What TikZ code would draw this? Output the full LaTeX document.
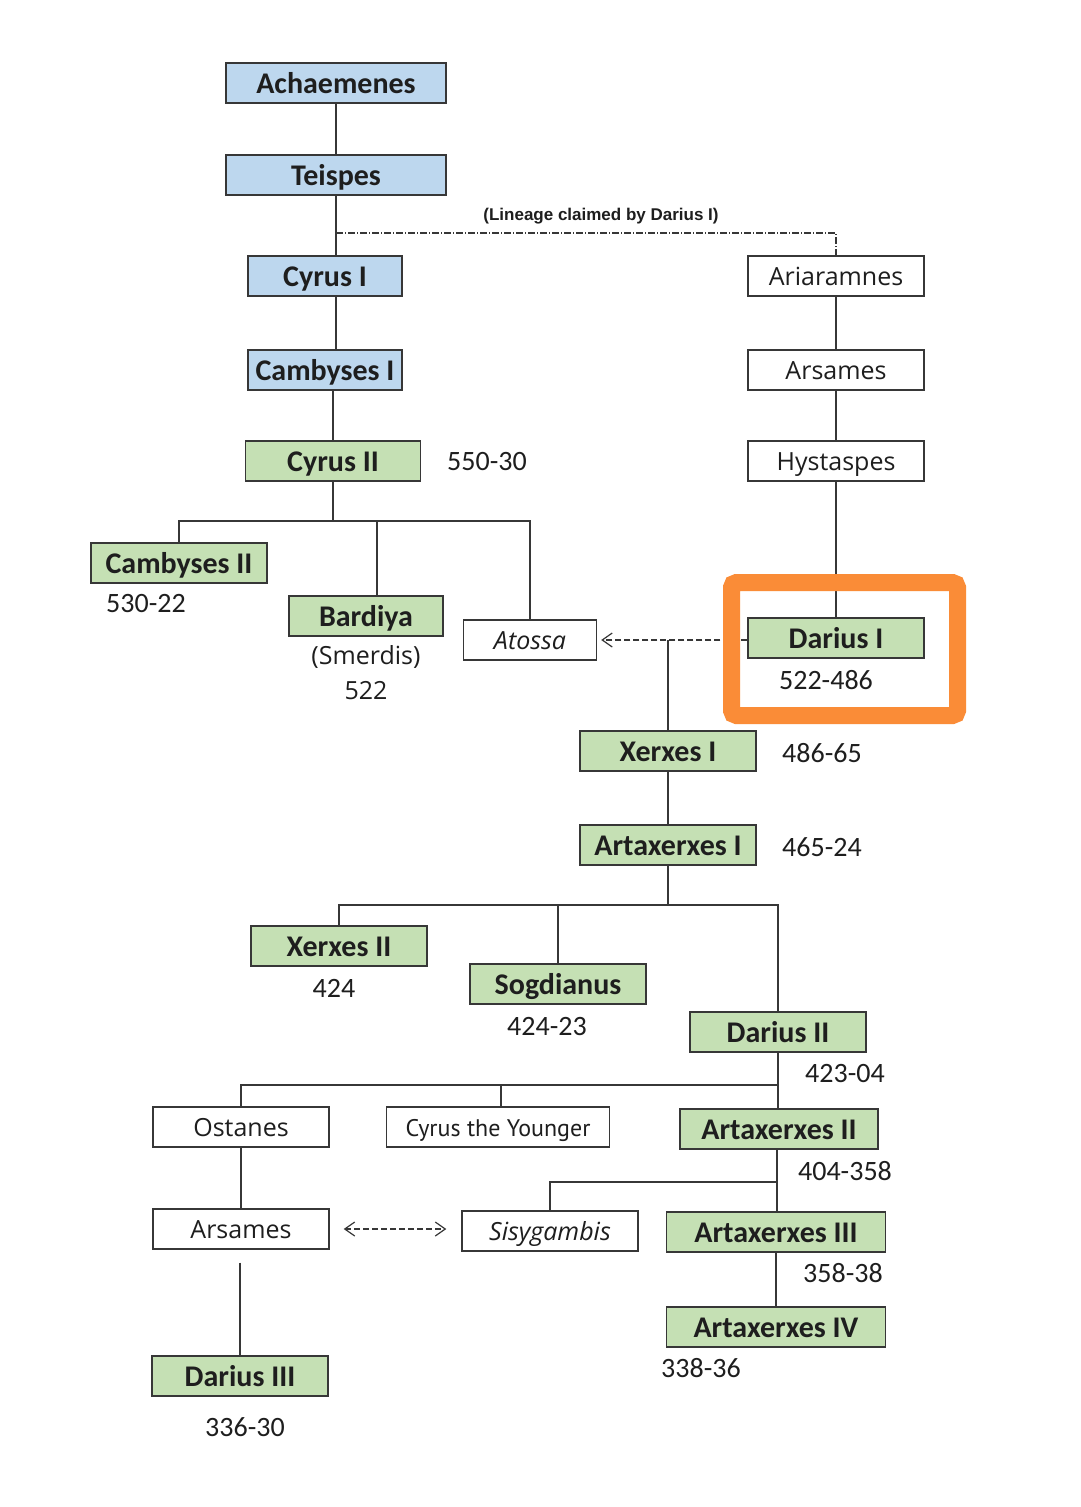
\documentclass[tikz,border=0pt]{standalone}
\usepackage{fontspec}
\usepackage{tikz}
\usetikzlibrary{arrows.meta,calc}
\newfontfamily\calibri{Carlito}
\newfontfamily\opensans{Open Sans}
\newfontfamily\ptsans{PT Sans}
\newfontfamily\arialf{Liberation Sans}
\definecolor{boxblue}{RGB}{189,215,238}
\definecolor{boxgreen}{RGB}{197,224,180}
\definecolor{edge}{RGB}{55,55,55}
\definecolor{ink}{RGB}{30,30,30}
\definecolor{frame}{RGB}{250,140,55}

\begin{document}
\begin{tikzpicture}[x=1pt, y=-1pt,
  box/.style={draw=edge, line width=1.4pt, minimum width=176pt, minimum height=40pt,
    inner sep=0pt, text=ink},
  anc/.style={box, fill=boxblue, font={\calibri\bfseries\fontsize{30}{36}\selectfont},
    text height=26pt, text depth=6pt},
  king/.style={box, fill=boxgreen, font={\calibri\bfseries\fontsize{30}{36}\selectfont},
    text height=26pt, text depth=6pt},
  other/.style={box, fill=white, font={\opensans\fontsize{25}{30}\selectfont},
    text height=24pt, text depth=6pt},
  date/.style={font={\calibri\fontsize{28}{34}\selectfont}, text=ink, inner sep=0pt},
  tie/.style={draw=edge, line width=1.4pt},
  hint/.style={draw=edge, line width=1.2pt, dash pattern=on 6pt off 3pt,
    arrows={-Straight Barb[length=10pt, width=14pt, line width=1.2pt]}}
]
\fill[white] (0,0) rectangle (1080,1507);
\useasboundingbox (0,0) rectangle (1080,1507);

% Achaemenes line
\node[anc, minimum width=220pt] (achaemenes) at (336,83) {Achaemenes};
\node[anc, minimum width=220pt] (teispes) at (336,175) {Teispes};
\node[anc, minimum width=154pt] (cyrusi) at (325,276) {Cyrus I};
\node[anc, minimum width=154pt] (cambysesi) at (325,370) {Cambyses I};
\node[king, minimum width=175pt] (cyrusii) at (333,461) {Cyrus II};
\node[date] (dcyrusii) at (487,462) {550-30};

\coordinate (claim) at (336,233);
\draw[tie] (achaemenes) -- (teispes);
\draw[tie] (teispes.south) -- (teispes.south |- cyrusi.north);
\draw[tie] (cyrusi.south -| claim) -- (cambysesi.north -| claim);
\draw[tie] (cyrusii.north |- cambysesi.south) -- (cyrusii.north);

% children of Cyrus II
\node[king] (cambysesii) at (179,563) {Cambyses II};
\node[date] (dcambysesii) at (146,604) {530-22};
\node[king, minimum width=154pt] (bardiya) at (366,616) {Bardiya};
\node[date, font={\opensans\fontsize{25}{30}\selectfont}] (smerdis) at (366,657) {(Smerdis)};
\node[date, font={\opensans\fontsize{25}{30}\selectfont}] (dbardiya) at (366,691) {522};
\node[other, minimum width=133pt, font={\opensans\itshape\fontsize{25}{30}\selectfont}] (atossa) at (530,640) {Atossa};

\coordinate (sons) at (333,521);
\coordinate (bdrop) at (377,521);
\draw[tie] (cyrusii.south) -- (sons);
\draw[tie] (cambysesii.north) |- (sons) -| (atossa.north);
\draw[tie] (bdrop) -- (bdrop |- bardiya.north);

% Darius I line
\node[other] (ariaramnes) at (836,276) {Ariaramnes};
\node[other] (arsamesa) at (836,370) {Arsames};
\node[other] (hystaspes) at (836,461) {Hystaspes};
\node[king] (dariusi) at (836,638) {Darius I};
\node[date] (ddariusi) at (826,680) {522-486};

\draw[edge, line width=1.2pt, dash pattern=on 7pt off 2pt on 1pt off 2pt] (claim) -| (ariaramnes.north);
\node[font={\arialf\bfseries\fontsize{17}{20}\selectfont}, text=ink, inner sep=0pt] (claimtxt) at (601,216) {(Lineage claimed by Darius I)};
\draw[tie] (ariaramnes) -- (arsamesa);
\draw[tie] (arsamesa) -- (hystaspes);
\draw[tie] (hystaspes) -- (dariusi);
\draw[hint, shorten >=4pt] (dariusi.west |- atossa.east) -- (atossa.east);

\draw[frame, line width=17pt, rounded corners=5pt] (731.5,582.5) rectangle (957.5,715.5);

% Xerxes I and Artaxerxes I
\node[king] (xerxesi) at (668,751) {Xerxes I};
\node[date] (dxerxesi) at (822,753) {486-65};
\node[king] (artaxerxesi) at (668,845) {Artaxerxes I};
\node[date] (dartaxerxesi) at (822,847) {465-24};

\coordinate (wed) at (668,640);
\draw[tie] (wed) -- (xerxesi);
\draw[tie] (xerxesi) -- (artaxerxesi);

% children of Artaxerxes I
\node[king] (xerxesii) at (339,946) {Xerxes II};
\node[date] (dxerxesii) at (334,988) {424};
\node[king] (sogdianus) at (558,984) {Sogdianus};
\node[date] (dsogdianus) at (547,1026) {424-23};
\node[king] (dariusii) at (778,1032) {Darius II};
\node[date] (ddariusii) at (845,1073) {423-04};

\coordinate (heirs) at (668,905);
\draw[tie] (artaxerxesi) -- (heirs);
\draw[tie] (xerxesii.north) |- (heirs) -| (dariusii.north);
\draw[tie] (sogdianus.north) -- (sogdianus.north |- heirs);

% children of Darius II
\node[other] (ostanes) at (241,1127) {Ostanes};
\node[other, minimum width=223pt, font={\ptsans\fontsize{24}{29}\selectfont}] (cyrusy) at (498,1127) {Cyrus the Younger};
\node[king, minimum width=198pt] (artaxerxesii) at (779,1129) {Artaxerxes II};
\node[date] (dartaxerxesii) at (845,1171) {404-358};

\coordinate (brood) at (778,1085);
\coordinate (ydrop) at (501,1085);
\draw[tie] (dariusii) -- (dariusii |- artaxerxesii.north);
\draw[tie] (ostanes.north) |- (brood);
\draw[tie] (ydrop) -- (ydrop |- cyrusy.north);

% last generations
\node[other] (arsamesb) at (241,1229) {Arsames};
\node[other, font={\opensans\itshape\fontsize{25}{30}\selectfont}] (sisygambis) at (550,1231) {Sisygambis};
\node[king, minimum width=219pt] (artaxerxesiii) at (776,1232) {Artaxerxes III};
\node[date] (dartaxerxesiii) at (843,1273) {358-38};
\node[king, minimum width=219pt] (artaxerxesiv) at (776,1327) {Artaxerxes IV};
\node[date] (dartaxerxesiv) at (701,1368) {338-36};
\node[king] (dariusiii) at (240,1376) {Darius III};
\node[date] (ddariusiii) at (245,1427) {336-30};

\coordinate (sis) at (777,1182);
\draw[tie] (artaxerxesii.south -| sis) -- (artaxerxesiii.north -| sis);
\draw[tie] (sisygambis.north) |- (sis);
\draw[tie] (artaxerxesiii) -- (artaxerxesiv);
\draw[tie] (ostanes) -- (arsamesb);
\draw[tie] ([yshift=-13pt]dariusiii.north |- arsamesb.south) -- (dariusiii.north);
\draw[hint, arrows={Straight Barb[length=10pt, width=14pt, line width=1.2pt]-Straight Barb[length=10pt, width=14pt, line width=1.2pt]},
  shorten <=14pt, shorten >=15pt] (arsamesb) -- (sisygambis.west |- arsamesb);
\end{tikzpicture}
\end{document}
